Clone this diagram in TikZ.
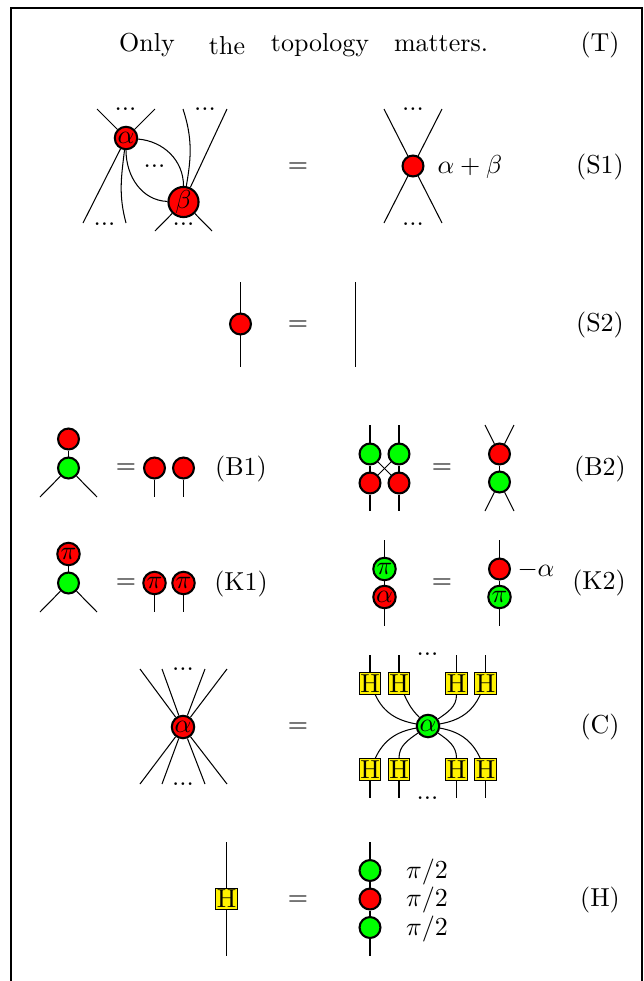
\documentclass[tikz,border=0pt]{standalone}
\begin{document}
\begin{tikzpicture}[x=0.385pt,y=0.385pt,
  red node/.style={circle,draw,thick,fill=red,inner sep=0pt,minimum size=8.05pt},
  green node/.style={circle,draw,thick,fill=green,inner sep=0pt,minimum size=8.05pt},
  phase/.style={minimum size=8.65pt},
  H node/.style={rectangle,draw,fill=yellow,inner sep=0pt,minimum size=8.4pt},
  dots node/.style={inner sep=0pt},
  text node/.style={inner sep=0pt,yshift=-0.5pt}]
  \useasboundingbox (0,0) rectangle (644,-981);
  % frame
  \coordinate (fa) at (11,-981);
  \coordinate (fb) at (11,-8);
  \coordinate (fc) at (642,-8);
  \coordinate (fd) at (642,-981);
  \draw[line width=0.85pt] (fa) -- (fb) -- (fc) -- (fd);
  % T
  \node[text node,anchor=base] (t1) at (147,-50) {Only};
  \node[text node,anchor=base] (t2) at (227,-53) {the};
  \node[text node,anchor=base] (t3) at (320,-50) {topology};
  \node[text node,anchor=base] (t4) at (441,-50) {matters.};
  \node[text node,anchor=base] (tT) at (600,-50) {(T)};
  % S1
  \node[red node,phase] (s1a) at (126,-138) {$\alpha$};
  \node[red node,minimum size=11.6pt] (s1b) at (183.5,-202) {$\beta$};
  \coordinate (s1c) at (97,-109);
  \coordinate (s1d) at (155,-109);
  \coordinate (s1e) at (83,-223);
  \coordinate (s1f) at (126,-223);
  \coordinate (s1g) at (183,-109);
  \coordinate (s1h) at (227,-109);
  \coordinate (s1i) at (155,-231);
  \coordinate (s1j) at (212,-231);
  \node[dots node] (s1k) at (125.5,-109) {...};
  \node[dots node] (s1l) at (205,-109) {...};
  \node[dots node] (s1m) at (154.5,-166) {...};
  \node[dots node] (s1n) at (104.5,-224) {...};
  \node[dots node] (s1o) at (183.5,-224) {...};
  \path
   (s1a) edge (s1c)
   (s1a) edge (s1d)
   (s1a) edge (s1e)
   (s1f) edge[out=105,in=-97] (s1a)
   (s1a) edge[out=-5,in=90] (s1b)
   (s1a) edge[out=-90,in=178] (s1b)
   (s1g) edge[out=-72,in=80] (s1b)
   (s1b) edge (s1h)
   (s1b) edge (s1i)
   (s1b) edge (s1j);
  \node[text node] (s1eq) at (298,-166) {$=$};
  \node[red node] (s1p) at (413,-166) {};
  \coordinate (s1q) at (384,-109);
  \coordinate (s1r) at (442,-109);
  \coordinate (s1s) at (384,-223);
  \coordinate (s1t) at (442,-223);
  \path
   (s1p) edge (s1q)
   (s1p) edge (s1r)
   (s1p) edge (s1s)
   (s1p) edge (s1t);
  \node[dots node] (s1u) at (413,-109) {...};
  \node[dots node] (s1v) at (413,-224) {...};
  \node[text node] (s1w) at (470,-166) {$\alpha+\beta$};
  \node[text node] (s1tag) at (600,-166) {(S1)};
  % S2
  \node[red node] (s2a) at (240.5,-324) {};
  \coordinate (s2b) at (240.5,-282);
  \coordinate (s2c) at (240.5,-367);
  \coordinate (s2d) at (355.5,-282);
  \coordinate (s2e) at (355.5,-367);
  \path
   (s2a) edge (s2b)
   (s2a) edge (s2c)
   (s2d) edge (s2e);
  \node[text node] (s2eq) at (298,-324) {$=$};
  \node[text node] (s2tag) at (600,-324) {(S2)};
  % B1
  \node[red node] (b1a) at (68.5,-439) {};
  \node[green node] (b1b) at (68.5,-468) {};
  \coordinate (b1c) at (40,-497);
  \coordinate (b1d) at (97,-497);
  \node[red node] (b1e) at (154.5,-468) {};
  \node[red node] (b1f) at (183.5,-468) {};
  \coordinate (b1g) at (154.5,-497);
  \coordinate (b1h) at (183.5,-497);
  \path
   (b1a) edge (b1b)
   (b1b) edge (b1c)
   (b1b) edge (b1d)
   (b1e) edge (b1g)
   (b1f) edge (b1h);
  \node[text node] (b1eq) at (126,-467) {$=$};
  \node[text node] (b1tag) at (241,-468) {(B1)};
  % B2
  \node[green node] (b2a) at (370,-454) {};
  \node[green node] (b2b) at (399,-454) {};
  \node[red node] (b2c) at (370,-483) {};
  \node[red node] (b2d) at (399,-483) {};
  \coordinate (b2e) at (370,-425);
  \coordinate (b2f) at (399,-425);
  \coordinate (b2g) at (370,-511);
  \coordinate (b2h) at (399,-511);
  \node[red node] (b2i) at (499.5,-454) {};
  \node[green node] (b2j) at (499.5,-482) {};
  \coordinate (b2k) at (485,-425);
  \coordinate (b2l) at (514,-425);
  \coordinate (b2m) at (485,-511);
  \coordinate (b2n) at (514,-511);
  \path
   (b2a) edge (b2e)
   (b2b) edge (b2f)
   (b2c) edge (b2g)
   (b2d) edge (b2h)
   (b2a) edge (b2c)
   (b2b) edge (b2d)
   (b2a) edge (b2d)
   (b2b) edge (b2c)
   (b2i) edge (b2j)
   (b2i) edge (b2k)
   (b2i) edge (b2l)
   (b2j) edge (b2m)
   (b2j) edge (b2n);
  \node[text node] (b2eq) at (442,-467) {$=$};
  \node[text node] (b2tag) at (600,-468) {(B2)};
  % K1
  \node[red node,phase] (k1a) at (68.5,-554) {$\pi$};
  \node[green node] (k1b) at (68.5,-583) {};
  \coordinate (k1c) at (40,-612);
  \coordinate (k1d) at (97,-612);
  \node[red node,phase] (k1e) at (154.5,-583) {$\pi$};
  \node[red node,phase] (k1f) at (183.5,-583) {$\pi$};
  \coordinate (k1g) at (154.5,-612);
  \coordinate (k1h) at (183.5,-612);
  \path
   (k1a) edge (k1b)
   (k1b) edge (k1c)
   (k1b) edge (k1d)
   (k1e) edge (k1g)
   (k1f) edge (k1h);
  \node[text node] (k1eq) at (126,-582) {$=$};
  \node[text node] (k1tag) at (241,-583) {(K1)};
  % K2
  \node[green node,phase] (k2a) at (384.5,-569) {$\pi$};
  \node[red node,phase] (k2b) at (384.5,-597) {$\alpha$};
  \coordinate (k2c) at (384.5,-540);
  \coordinate (k2d) at (384.5,-626);
  \node[red node] (k2e) at (499.5,-569) {};
  \node[green node,phase] (k2f) at (499.5,-597) {$\pi$};
  \coordinate (k2g) at (499.5,-540);
  \coordinate (k2h) at (499.5,-626);
  \path
   (k2a) edge (k2b)
   (k2a) edge (k2c)
   (k2b) edge (k2d)
   (k2e) edge (k2f)
   (k2e) edge (k2g)
   (k2f) edge (k2h);
  \node[text node] (k2eq) at (442,-582) {$=$};
  \node[text node] (k2l) at (536,-569) {$-\alpha$};
  \node[text node] (k2tag) at (599,-582) {(K2)};
  % C
  \node[red node,phase] (ca) at (183,-727) {$\alpha$};
  \coordinate (cb) at (140,-669);
  \coordinate (cc) at (162,-669);
  \coordinate (cd) at (205,-669);
  \coordinate (ce) at (227,-669);
  \coordinate (cf) at (140,-784);
  \coordinate (cg) at (162,-784);
  \coordinate (ch) at (205,-784);
  \coordinate (ci) at (227,-784);
  \path
   (ca) edge (cb)
   (ca) edge (cc)
   (ca) edge (cd)
   (ca) edge (ce)
   (ca) edge (cf)
   (ca) edge (cg)
   (ca) edge (ch)
   (ca) edge (ci);
  \node[dots node] (cj) at (183,-669) {...};
  \node[dots node] (ck) at (183,-784) {...};
  \node[text node] (ceq) at (298,-726) {$=$};
  \node[green node,phase] (cl) at (428,-726) {$\alpha$};
  \node[H node] (h1) at (370,-683.5) {H};
  \node[H node] (h2) at (399,-683.5) {H};
  \node[H node] (h3) at (456.5,-683.5) {H};
  \node[H node] (h4) at (485.5,-683.5) {H};
  \node[H node] (h5) at (370,-769.5) {H};
  \node[H node] (h6) at (399,-769.5) {H};
  \node[H node] (h7) at (456.5,-769.5) {H};
  \node[H node] (h8) at (485.5,-769.5) {H};
  \coordinate (cm) at (370,-655);
  \coordinate (cn) at (399,-655);
  \coordinate (co) at (456.5,-655);
  \coordinate (cp) at (485.5,-655);
  \coordinate (cq) at (370,-798);
  \coordinate (cr) at (399,-798);
  \coordinate (cs) at (456.5,-798);
  \coordinate (ct) at (485.5,-798);
  \path
   (h1) edge (cm)
   (h2) edge (cn)
   (h3) edge (co)
   (h4) edge (cp)
   (h5) edge (cq)
   (h6) edge (cr)
   (h7) edge (cs)
   (h8) edge (ct)
   (h1) edge[out=-65,in=170] (cl)
   (h2) edge[out=-65,in=135] (cl)
   (h3) edge[out=-90,in=35] (cl)
   (h4) edge[out=-115,in=10] (cl)
   (h5) edge[out=65,in=190] (cl)
   (h6) edge[out=90,in=215] (cl)
   (h7) edge[out=90,in=-35] (cl)
   (h8) edge[out=115,in=-10] (cl);
  \node[dots node] (cu) at (427.5,-654) {...};
  \node[dots node] (cv) at (427.5,-798) {...};
  \node[text node] (ctag) at (600,-726) {(C)};
  % H
  \node[H node] (ha) at (226.5,-899) {H};
  \coordinate (hb) at (226.5,-842);
  \coordinate (hc) at (226.5,-956);
  \node[green node] (hd) at (370,-870.5) {};
  \node[red node] (he) at (370,-899) {};
  \node[green node] (hf) at (370,-927.5) {};
  \coordinate (hg) at (370,-842);
  \coordinate (hh) at (370,-956);
  \path
   (ha) edge (hb)
   (ha) edge (hc)
   (hd) edge (he)
   (he) edge (hf)
   (hd) edge (hg)
   (hf) edge (hh);
  \node[text node] (heq) at (298,-899) {$=$};
  \node[text node] (hi) at (427,-870.5) {$\pi/2$};
  \node[text node] (hj) at (427,-899) {$\pi/2$};
  \node[text node] (hk) at (427,-927.5) {$\pi/2$};
  \node[text node] (htag) at (600,-899) {(H)};
\end{tikzpicture}
\end{document}
